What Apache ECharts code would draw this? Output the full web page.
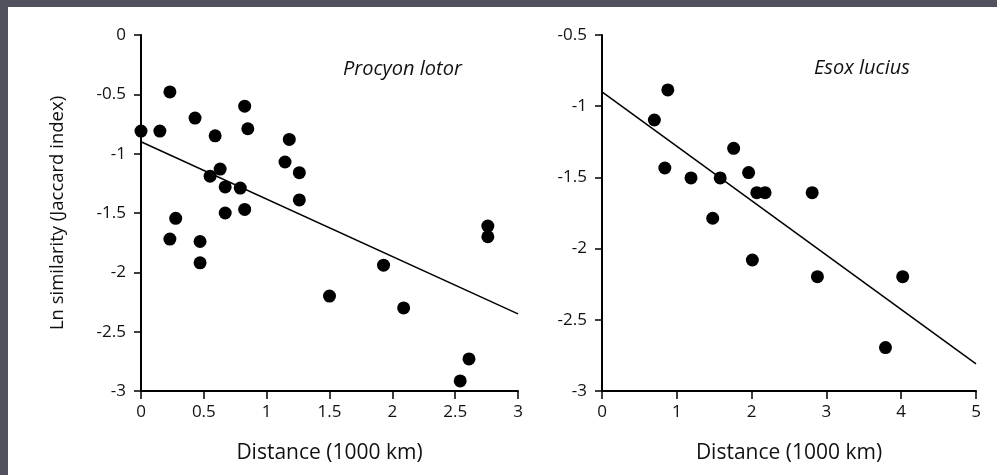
<!DOCTYPE html>
<html>
<head>
<meta charset="utf-8">
<script src="https://cdn.jsdelivr.net/npm/echarts@6/dist/echarts.min.js"></script>
<style>
html,body{margin:0;padding:0;background:#fff;}
#c{width:997px;height:475px;}
</style>
</head>
<body>
<div id="c"></div>
<script>
// Procyon lotor (left panel)
const procyonX = [0.00,0.15,0.23,0.43,0.59,0.825,0.85,1.18,1.146,1.26,1.26,0.63,0.55,0.67,0.79,0.67,0.825,0.276,0.23,0.47,0.47,1.50,1.93,2.09,2.76,2.76,2.61,2.54];
const procyonY = [-0.81,-0.81,-0.48,-0.70,-0.85,-0.60,-0.79,-0.88,-1.07,-1.16,-1.39,-1.13,-1.19,-1.28,-1.29,-1.50,-1.47,-1.545,-1.72,-1.74,-1.92,-2.20,-1.94,-2.30,-1.61,-1.70,-2.73,-2.915];
const procyonFitX = [0, 3];
const procyonFitY = [-0.90, -2.35];

// Esox lucius (right panel)
const esoxX = [0.88,0.70,0.84,1.19,1.58,1.76,1.96,2.07,2.18,2.81,1.48,2.01,2.88,4.02,3.79];
const esoxY = [-0.886,-1.097,-1.434,-1.504,-1.504,-1.296,-1.466,-1.607,-1.607,-1.607,-1.787,-2.08,-2.197,-2.197,-2.695];
const esoxFitX = [0, 5];
const esoxFitY = [-0.90, -2.81];

const leftXTicks = [0, 0.5, 1, 1.5, 2, 2.5, 3];
const leftYTicks = [0, -0.5, -1, -1.5, -2, -2.5, -3];
const rightXTicks = [0, 1, 2, 3, 4, 5];
const rightYTicks = [-0.5, -1, -1.5, -2, -2.5, -3];

const xTitle = 'Distance (1000 km)';
const yTitle = 'Ln similarity (Jaccard index)';
const leftLabel = 'Procyon lotor';
const rightLabel = 'Esox lucius';

const FONT = 'Open Sans';
const zip = (a, b) => a.map((v, i) => [v, b[i]]);

function xAxis(gi, min, max, interval) {
  return {
    type: 'value', gridIndex: gi, min: min, max: max, interval: interval,
    name: xTitle, nameLocation: 'middle', nameGap: 52,
    nameTextStyle: {fontFamily: FONT, fontSize: 21, color: '#111'},
    axisLine: {show: true, onZero: false, lineStyle: {color: '#000', width: 2}},
    axisTick: {show: true, inside: false, length: 8, lineStyle: {color: '#000', width: 1.5}},
    axisLabel: {fontFamily: FONT, fontSize: 17, color: '#111', margin: 13,
      formatter: v => String(v)},
    splitLine: {show: false}
  };
}
function yAxis(gi, min, max, interval, named) {
  return {
    type: 'value', gridIndex: gi, min: min, max: max, interval: interval,
    name: named ? yTitle : '', nameLocation: 'middle', nameGap: 74, nameRotate: 90,
    nameTextStyle: {fontFamily: FONT, fontSize: 18.5, color: '#111'},
    axisLine: {show: true, onZero: false, lineStyle: {color: '#000', width: 2}},
    axisTick: {show: true, inside: false, length: 7, lineStyle: {color: '#000', width: 1.5}},
    axisLabel: {fontFamily: FONT, fontSize: 17, color: '#111', margin: 15,
      formatter: v => String(v)},
    splitLine: {show: false}
  };
}

const chart = echarts.init(document.getElementById('c'), null, {renderer: 'canvas'});
chart.setOption({
  backgroundColor: '#fff',
  animation: false,
  graphic: [
    {type: 'rect', shape: {x: 0, y: 0, width: 997, height: 7}, style: {fill: '#52525f'}, z: 100},
    {type: 'rect', shape: {x: 0, y: 0, width: 8, height: 475}, style: {fill: '#52525f'}, z: 100}
  ],
  title: [
    {text: leftLabel, left: 343, top: 59, padding: 0,
      textStyle: {fontFamily: FONT, fontStyle: 'italic', fontWeight: 'normal', fontSize: 20, color: '#111'}},
    {text: rightLabel, left: 814, top: 58, padding: 0,
      textStyle: {fontFamily: FONT, fontStyle: 'italic', fontWeight: 'normal', fontSize: 20, color: '#111'}}
  ],
  grid: [
    {left: 141, top: 35, width: 377, height: 356},
    {left: 602, top: 35, width: 374, height: 356}
  ],
  xAxis: [xAxis(0, 0, 3, 0.5), xAxis(1, 0, 5, 1)],
  yAxis: [yAxis(0, -3, 0, 0.5, true), yAxis(1, -3, -0.5, 0.5, false)],
  series: [
    {type: 'scatter', xAxisIndex: 0, yAxisIndex: 0, data: zip(procyonX, procyonY),
      symbolSize: 13, itemStyle: {color: '#000', opacity: 1}},
    {type: 'line', xAxisIndex: 0, yAxisIndex: 0, data: zip(procyonFitX, procyonFitY),
      symbol: 'none', lineStyle: {color: '#000', width: 1.5}},
    {type: 'scatter', xAxisIndex: 1, yAxisIndex: 1, data: zip(esoxX, esoxY),
      symbolSize: 13, itemStyle: {color: '#000', opacity: 1}},
    {type: 'line', xAxisIndex: 1, yAxisIndex: 1, data: zip(esoxFitX, esoxFitY),
      symbol: 'none', lineStyle: {color: '#000', width: 1.5}}
  ]
});
</script>
</body>
</html>
